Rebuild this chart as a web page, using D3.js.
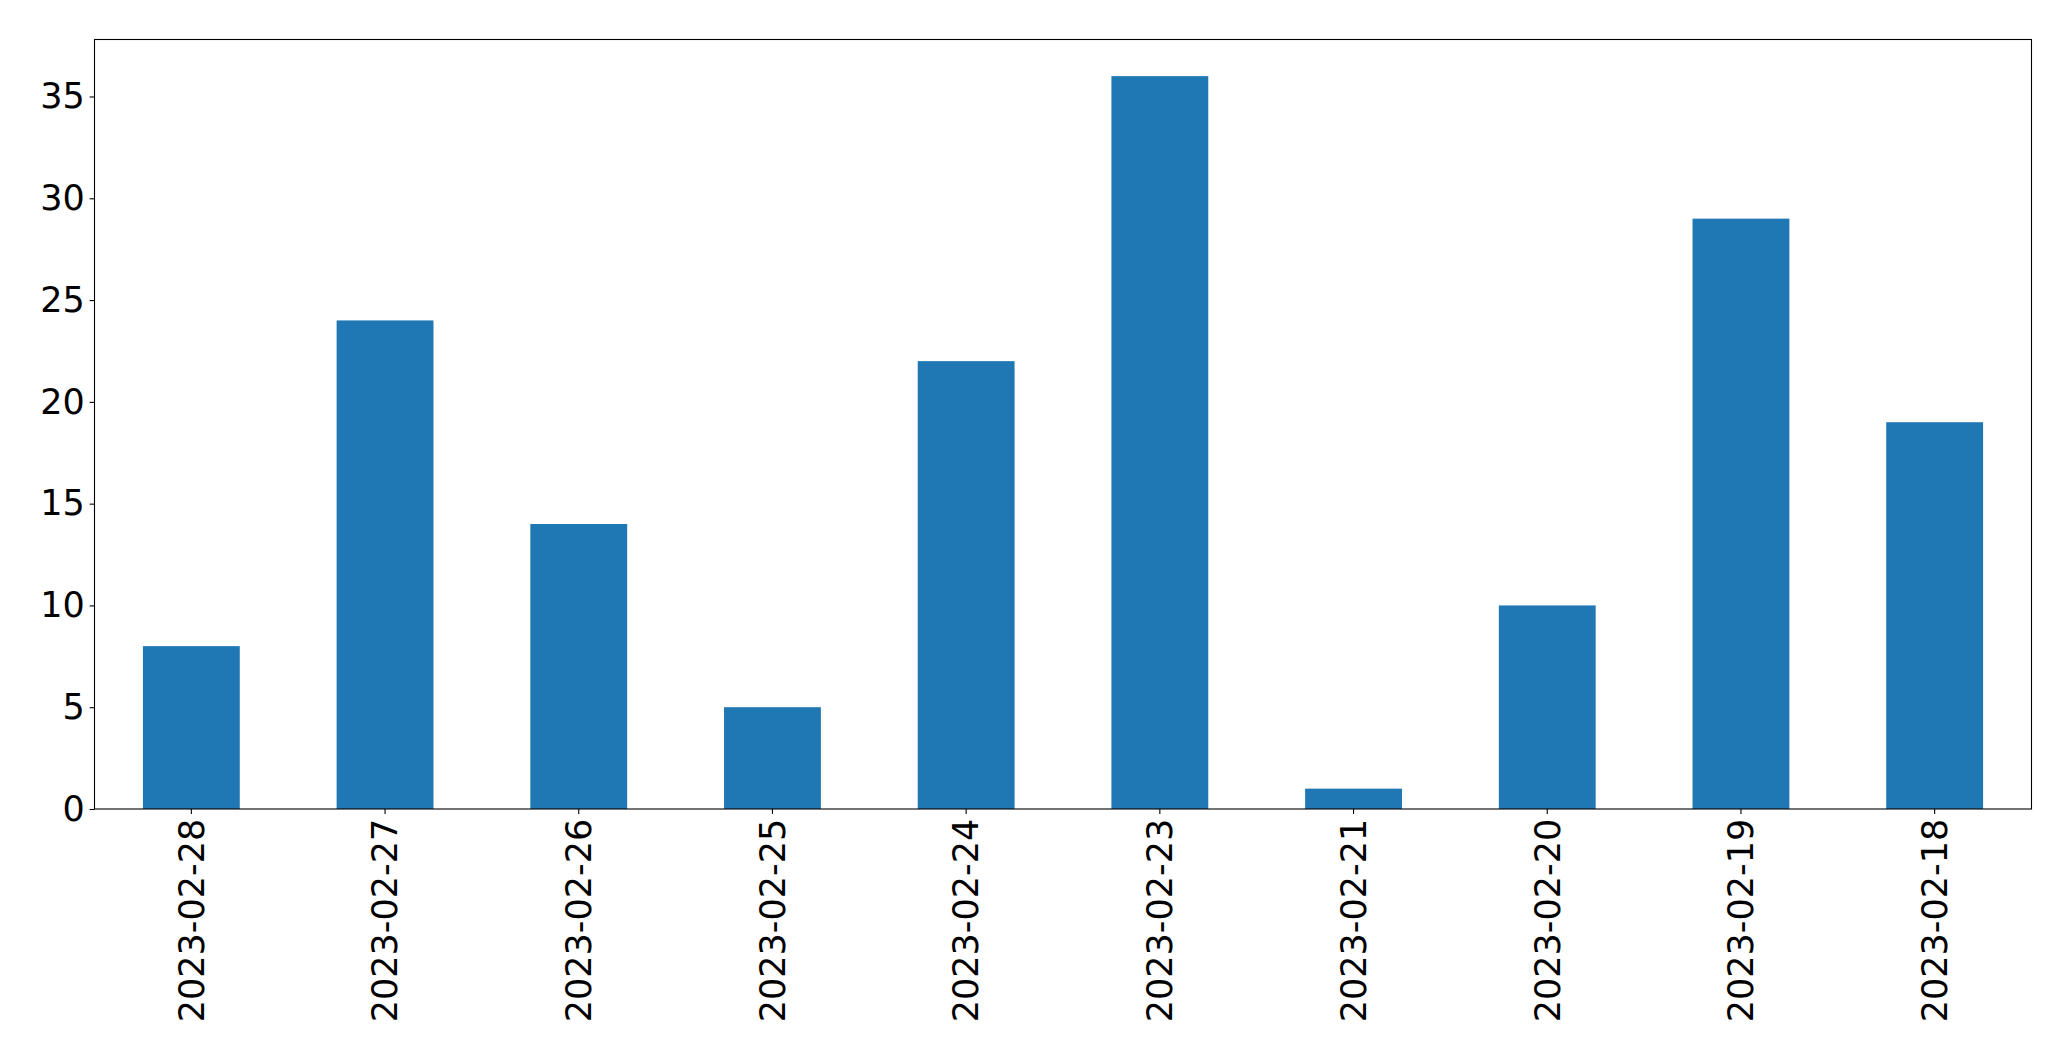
<!DOCTYPE html>
<html>
<head>
<meta charset="utf-8">
<script src="https://cdn.jsdelivr.net/npm/d3@7"></script>
<style>
  html, body { margin: 0; padding: 0; background: #fff; }
  svg { display: block; }
  text { font-family: "DejaVu Sans", sans-serif; }
</style>
</head>
<body>
<svg id="chart" width="2071" height="1061"></svg>
<script>
const categories = ["2023-02-28","2023-02-27","2023-02-26","2023-02-25","2023-02-24","2023-02-23","2023-02-21","2023-02-20","2023-02-19","2023-02-18"];
const values = [8, 24, 14, 5, 22, 36, 1, 10, 29, 19];
const yTicks = [0, 5, 10, 15, 20, 25, 30, 35];

const W = 2071, H = 1061;
const margin = {left: 94.5, top: 39.5, right: 39.5, bottom: 252};
const svg = d3.select("#chart");

const x = d3.scaleBand()
  .domain(categories)
  .range([margin.left, W - margin.right])
  .paddingInner(0.5)
  .paddingOuter(0.25);

const y = d3.scaleLinear()
  .domain([0, d3.max(values) * 1.05])
  .range([H - margin.bottom, margin.top]);

svg.append("g")
  .selectAll("rect")
  .data(values)
  .join("rect")
  .attr("x", (d, i) => x(categories[i]))
  .attr("y", d => y(d))
  .attr("width", x.bandwidth())
  .attr("height", d => y(0) - y(d))
  .attr("fill", "#1f77b4");

// frame
svg.append("rect")
  .attr("x", margin.left)
  .attr("y", margin.top)
  .attr("width", W - margin.right - margin.left)
  .attr("height", y(0) - margin.top)
  .attr("fill", "none")
  .attr("stroke", "#000")
  .attr("stroke-width", 1.1);

const fs = "35px";
const yAxis = d3.axisLeft(y).tickValues(yTicks).tickSize(4.9).tickPadding(4.9).tickFormat(d3.format("d"));
const gy = svg.append("g").attr("transform", `translate(${margin.left},0)`).call(yAxis);
gy.select(".domain").remove();
gy.selectAll("line").attr("stroke", "#000").attr("stroke-width", 1.1);
gy.selectAll("text").attr("font-size", fs).attr("fill", "#000").attr("font-family", "DejaVu Sans, sans-serif");

const xAxis = d3.axisBottom(x).tickSize(4.9).tickPadding(4.9);
const gx = svg.append("g").attr("transform", `translate(0,${y(0)})`).call(xAxis);
gx.select(".domain").remove();
gx.selectAll("line").attr("stroke", "#000").attr("stroke-width", 1.1);
gx.selectAll("text")
  .attr("font-size", fs)
  .attr("fill", "#000")
  .attr("font-family", "DejaVu Sans, sans-serif")
  .attr("x", 0)
  .attr("y", 0)
  .attr("dy", "0.35em")
  .attr("text-anchor", "end")
  .attr("transform", "translate(0,9.8) rotate(-90)");
</script>
</body>
</html>
